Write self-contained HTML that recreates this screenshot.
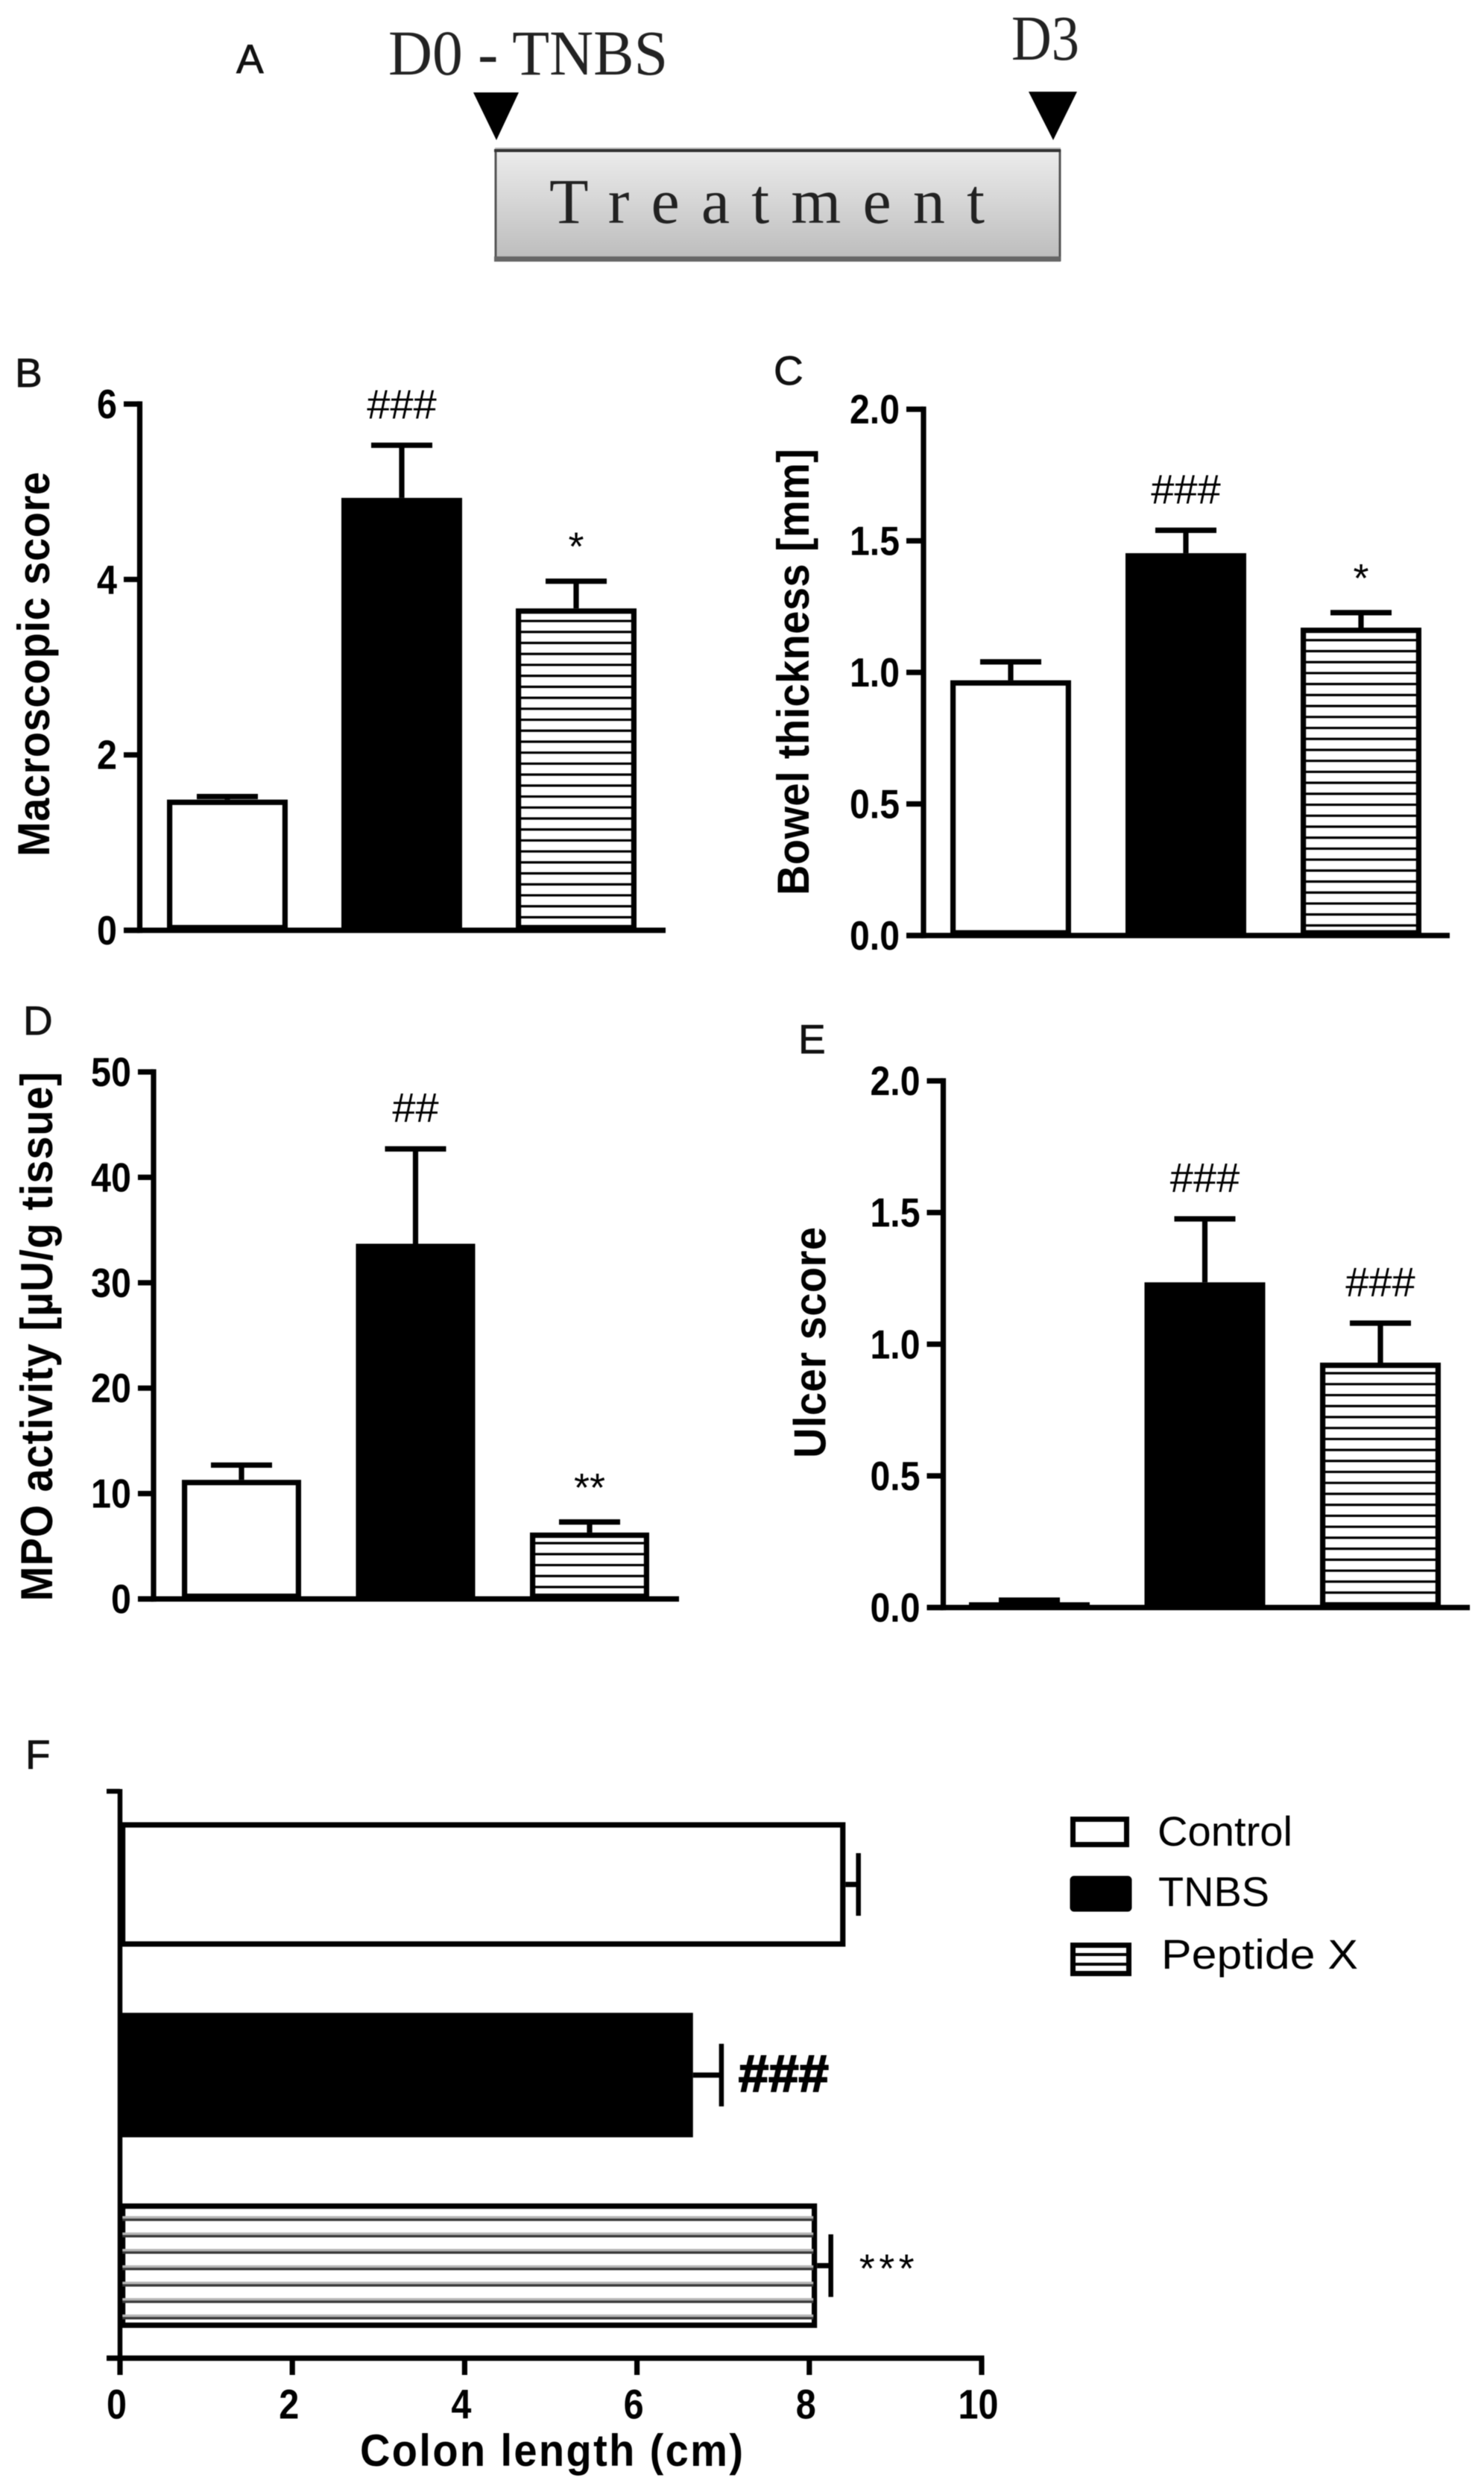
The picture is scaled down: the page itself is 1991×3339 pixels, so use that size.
<!DOCTYPE html>
<html lang="en">
<head>
<meta charset="utf-8">
<title>Peptide X treatment in TNBS colitis</title>
<style>
  html, body { margin: 0; padding: 0; background: #fff; }
  svg { display: block; filter: blur(0.5px); }
  text { font-family: "Liberation Sans", sans-serif; fill: #000; }
  .serif { font-family: "Liberation Serif", serif; fill: #222; }
  .panel-letter { font-size: 55px; fill: #111; stroke: #111; stroke-width: 0.8px; }
</style>
</head>
<body>
<svg id="figure" xmlns="http://www.w3.org/2000/svg" width="1991" height="3339" viewBox="0 0 1991 3339">
  <defs>
    <linearGradient id="treatment-fill" x1="0" y1="0" x2="0" y2="1">
      <stop offset="0" stop-color="#ececec"/>
      <stop offset="1" stop-color="#bcbcbc"/>
    </linearGradient>
  </defs>
  <rect width="1991" height="3339" fill="#fff"/>

  <g>
    <text class="panel-letter" x="317" y="98">A</text>
    <text class="serif" x="521" y="100" font-size="86" textLength="375" lengthAdjust="spacingAndGlyphs">D0 - TNBS</text>
    <text class="serif" x="1357" y="80" font-size="86" textLength="91" lengthAdjust="spacingAndGlyphs">D3</text>
    <polygon points="635,124 696,124 666,188" fill="#000"/>
    <polygon points="1380,123 1445,123 1413,188" fill="#000"/>
    <g>
      <rect x="664" y="198" width="759" height="3" fill="#bbb"/>
      <rect x="665" y="202" width="757" height="147" fill="url(#treatment-fill)" stroke="#555" stroke-width="3"/>
      <rect x="663" y="200" width="760" height="4" fill="#333"/>
      <rect x="663" y="344" width="760" height="7" fill="#666"/>
      <text class="serif" x="737" y="299" font-size="86" textLength="584" lengthAdjust="spacing">Treatment</text>
    </g>
  </g>

  <g id="charts"></g>

  <g>
    <g>
      <rect x="1439.5" y="2440.5" width="72" height="34" fill="#fff" stroke="#000" stroke-width="7"/>
      <text x="1553" y="2476" font-size="56" fill="#222" textLength="181" lengthAdjust="spacingAndGlyphs">Control</text>
    </g>
    <g>
      <rect x="1438" y="2519" width="78" height="43" rx="3" fill="#000" stroke="#000" stroke-width="5"/>
      <text x="1554" y="2557" font-size="56" fill="#222" textLength="149" lengthAdjust="spacingAndGlyphs">TNBS</text>
    </g>
    <g>
      <rect x="1439.5" y="2609.5" width="75" height="38" fill="#fff" stroke="#000" stroke-width="7"/>
      <path d="M1436 2622H1518M1436 2635H1518" stroke="#000" stroke-width="4"/>
      <text x="1558" y="2641" font-size="56" fill="#222" textLength="264" lengthAdjust="spacingAndGlyphs">Peptide X</text>
    </g>
  </g>

  <text class="panel-letter" x="20" y="519">B</text>
  <text class="panel-letter" x="1038" y="516">C</text>
  <text class="panel-letter" x="31" y="1388">D</text>
  <text class="panel-letter" x="1071" y="1413">E</text>
  <text class="panel-letter" x="34" y="2373">F</text>
</svg>

<script>
// ---- shared categories ----
const groups = ['Control', 'TNBS', 'Peptide X'];

// ---- panel B ----
const macroscopicTicks = [0, 2, 4, 6];
const macroscopicTickLabels = ['0', '2', '4', '6'];
const macroscopicValues = [1.49, 4.93, 3.67];
const macroscopicErrors = [0.035, 0.6, 0.31];
const macroscopicMarks = ['', '###', '*'];

// ---- panel C ----
const thicknessTicks = [0, 0.5, 1, 1.5, 2];
const thicknessTickLabels = ['0.0', '0.5', '1.0', '1.5', '2.0'];
const thicknessValues = [0.97, 1.453, 1.17];
const thicknessErrors = [0.07, 0.087, 0.057];
const thicknessMarks = ['', '###', '*'];

// ---- panel D ----
const mpoTicks = [0, 10, 20, 30, 40, 50];
const mpoTickLabels = ['0', '10', '20', '30', '40', '50'];
const mpoValues = [11.3, 33.7, 6.3];
const mpoErrors = [1.4, 9, 1];
const mpoMarks = ['', '##', '**'];

// ---- panel E ----
const ulcerTicks = [0, 0.5, 1, 1.5, 2];
const ulcerTickLabels = ['0.0', '0.5', '1.0', '1.5', '2.0'];
const ulcerValues = [0.02, 1.235, 0.93];
const ulcerErrors = [0.008, 0.241, 0.15];
const ulcerMarks = ['', '###', '###'];

// ---- panel F ----
const colonTicks = [0, 2, 4, 6, 8, 10];
const colonTickLabels = ['0', '2', '4', '6', '8', '10'];
const colonValues = [8.42, 6.65, 8.09];
const colonErrors = [0.15, 0.33, 0.16];
const colonMarks = ['', '###', '***'];

const SVG_NS = 'http://www.w3.org/2000/svg';
const chartsRoot = document.getElementById('charts');
const LINE = 7.2;

function add(parent, tag, attrs, content) {
  const el = document.createElementNS(SVG_NS, tag);
  for (const key in attrs) el.setAttribute(key, attrs[key]);
  if (content !== undefined) el.textContent = content;
  parent.appendChild(el);
  return el;
}

function slug(text) {
  return text.toLowerCase().replace(/[^a-z0-9]+/g, '-');
}

function numberWidth(label) {
  let w = 0;
  for (const ch of label) w += ch === '.' ? 13 : 27;
  return w;
}

function fillBar(parent, group, x, y, w, h, hatchPath) {
  const fill = group === 'TNBS' ? '#000' : '#fff';
  const bar = add(parent, 'rect', {
    x: x + LINE / 2, y: y + LINE / 2,
    width: Math.max(w - LINE, 0.5), height: Math.max(h - LINE, 0.5),
    fill: fill, stroke: '#000', 'stroke-width': LINE
  });
  
  
  if (hatchPath) {
    const hatch = add(parent, 'path', hatchPath);
    
    
  }
  return bar;
}

function columnPanel(cfg) {
  const panel = add(chartsRoot, 'g', {});
  
  

  const yMin = cfg.ticks[0];
  const yMax = cfg.ticks[cfg.ticks.length - 1];
  const yScale = function (v) {
    return cfg.y0 + (v - yMin) / (yMax - yMin) * (cfg.yTop - cfg.y0);
  };

  cfg.values.forEach(function (value, i) {
    const left = cfg.firstBar + i * cfg.barStep;
    const centre = left + cfg.barWidth / 2;
    const top = yScale(value);
    const capY = yScale(value + cfg.errors[i]);

    const stem = add(panel, 'line', { x1: centre, x2: centre, y1: top, y2: capY, stroke: '#000', 'stroke-width': LINE });
    
    
    const cap = add(panel, 'line', { x1: centre - 41, x2: centre + 41, y1: capY, y2: capY, stroke: '#000', 'stroke-width': LINE });
    
    

    let hatchAttrs = null;
    if (groups[i] === 'Peptide X') {
      let d = '';
      for (let y = cfg.y0 - cfg.hatchOffset; y > top + 9; y -= 14.72) {
        d += 'M' + left + ' ' + y + 'H' + (left + cfg.barWidth);
      }
      hatchAttrs = { d: d, stroke: '#000', 'stroke-width': 3.2, fill: 'none' };
    }
    fillBar(panel, groups[i], left, top, cfg.barWidth, cfg.y0 - top, hatchAttrs);

    const mark = cfg.marks[i];
    if (mark) {
      const isHash = mark.charAt(0) === '#';
      const label = add(panel, 'text', {
        x: centre, y: capY - (isHash ? 36 : 28),
        'text-anchor': 'middle',
        'font-size': isHash ? 56 : 54,
        fill: '#222'
      }, mark);
      
      
    }
  });

  const yAxis = add(panel, 'line', { x1: cfg.axisX, x2: cfg.axisX, y1: cfg.yTop - LINE / 2, y2: cfg.y0 + LINE / 2, stroke: '#000', 'stroke-width': LINE });
  
  
  const xAxis = add(panel, 'line', { x1: cfg.tickStart, x2: cfg.axisEnd, y1: cfg.y0, y2: cfg.y0, stroke: '#000', 'stroke-width': LINE });
  
  

  cfg.ticks.forEach(function (tickValue, i) {
    const y = yScale(tickValue);
    const tick = add(panel, 'line', { x1: cfg.tickStart, x2: cfg.axisX, y1: y, y2: y, stroke: '#000', 'stroke-width': LINE });
    
    
    const label = add(panel, 'text', {
      x: cfg.tickStart - 9, y: y + 19,
      'text-anchor': 'end', 'font-size': 55, 'font-weight': 'bold', fill: '#111',
      textLength: numberWidth(cfg.tickLabels[i]), lengthAdjust: 'spacingAndGlyphs'
    }, cfg.tickLabels[i]);
    
    
  });

  const title = add(panel, 'text', {
    x: 0, y: 0,
    transform: 'translate(' + cfg.titleX + ' ' + cfg.titleBottom + ') rotate(-90) scale(1 1.08)',
    'font-size': 56, 'font-weight': 'bold', fill: '#111',
    textLength: cfg.titleLength, lengthAdjust: 'spacing'
  }, cfg.title);
  
  
}

function barPanel(cfg) {
  const panel = add(chartsRoot, 'g', {});
  
  

  const xMin = cfg.ticks[0];
  const xMax = cfg.ticks[cfg.ticks.length - 1];
  const xScale = function (v) {
    return cfg.x0 + (v - xMin) / (xMax - xMin) * (cfg.xEnd - cfg.x0);
  };

  cfg.values.forEach(function (value, i) {
    const top = cfg.firstBar + i * cfg.barStep;
    const centre = top + cfg.barHeight / 2;
    const right = xScale(value);
    const capX = xScale(value + cfg.errors[i]);

    const stem = add(panel, 'line', { x1: right, x2: capX, y1: centre, y2: centre, stroke: '#000', 'stroke-width': 7 });
    
    
    const cap = add(panel, 'line', { x1: capX, x2: capX, y1: centre - 42, y2: centre + 42, stroke: '#000', 'stroke-width': 6.5 });
    
    

    fillBar(panel, groups[i], cfg.x0, top, right - cfg.x0, cfg.barHeight, null);

    if (groups[i] === 'Peptide X') {
      let soft = '';
      let dark = '';
      for (let k = 1; k <= 7; k++) {
        const y = top + k * 22;
        soft += 'M' + cfg.x0 + ' ' + (y - 3) + 'H' + (right - 5);
        dark += 'M' + cfg.x0 + ' ' + y + 'H' + (right - 5);
      }
      const halo = add(panel, 'path', { d: soft, stroke: '#b5b5b5', 'stroke-width': 4, fill: 'none' });
      
      
      const hatch = add(panel, 'path', { d: dark, stroke: '#3a3a3a', 'stroke-width': 3.2, fill: 'none' });
      
      
    }

    const mark = cfg.marks[i];
    if (mark) {
      const isHash = mark.charAt(0) === '#';
      const label = add(panel, 'text', {
        x: capX + (isHash ? 23 : 38), y: centre + 22,
        'font-size': isHash ? 70 : 54,
        'font-weight': isHash ? 'bold' : 'normal',
        fill: isHash ? '#000' : '#333',
        stroke: isHash ? '#000' : 'none',
        'stroke-width': isHash ? 2 : 0,
        textLength: isHash ? 121 : 74,
        lengthAdjust: isHash ? 'spacingAndGlyphs' : 'spacing'
      }, mark);
      
      
    }
  });

  const yAxis = add(panel, 'line', { x1: cfg.x0, x2: cfg.x0, y1: cfg.axisTop, y2: cfg.y0, stroke: '#000', 'stroke-width': 6.5 });
  
  
  const topTick = add(panel, 'line', { x1: cfg.x0 - 18, x2: cfg.x0, y1: cfg.axisTop + 3, y2: cfg.axisTop + 3, stroke: '#000', 'stroke-width': 6.5 });
  
  
  const xAxis = add(panel, 'line', { x1: cfg.x0 - 18, x2: cfg.xEnd + 3.5, y1: cfg.y0, y2: cfg.y0, stroke: '#000', 'stroke-width': 7.2 });
  
  

  cfg.ticks.forEach(function (tickValue, i) {
    const x = xScale(tickValue);
    const tick = add(panel, 'line', { x1: x, x2: x, y1: cfg.y0, y2: cfg.y0 + 22.5, stroke: '#000', 'stroke-width': 7.2 });
    
    
    const label = add(panel, 'text', {
      x: x - 4.5, y: cfg.y0 + 81,
      'text-anchor': 'middle', 'font-size': 56, 'font-weight': 'bold', fill: '#111',
      textLength: numberWidth(cfg.tickLabels[i]), lengthAdjust: 'spacingAndGlyphs'
    }, cfg.tickLabels[i]);
    
    
  });

  const title = add(panel, 'text', {
    x: 0, y: 0,
    transform: 'translate(' + cfg.titleX + ' ' + cfg.titleY + ') scale(1 1.08)',
    'font-size': 56, 'font-weight': 'bold', fill: '#111',
    textLength: cfg.titleLength, lengthAdjust: 'spacing'
  }, cfg.title);
  
  
}

columnPanel({
  name: 'panel-b-macroscopic-score',
  ticks: macroscopicTicks, tickLabels: macroscopicTickLabels,
  values: macroscopicValues, errors: macroscopicErrors, marks: macroscopicMarks,
  axisX: 187.5, tickStart: 166, axisEnd: 893, y0: 1248, yTop: 542,
  firstBar: 224, barStep: 234, barWidth: 162, hatchOffset: 17.5,
  title: 'Macroscopic score', titleX: 66, titleBottom: 1149, titleLength: 516
});

columnPanel({
  name: 'panel-c-bowel-thickness',
  ticks: thicknessTicks, tickLabels: thicknessTickLabels,
  values: thicknessValues, errors: thicknessErrors, marks: thicknessMarks,
  axisX: 1239, tickStart: 1216, axisEnd: 1945, y0: 1255, yTop: 549,
  firstBar: 1275, barStep: 235, barWidth: 162, hatchOffset: 13.5,
  title: 'Bowel thickness [mm]', titleX: 1085, titleBottom: 1201, titleLength: 599
});

columnPanel({
  name: 'panel-d-mpo-activity',
  ticks: mpoTicks, tickLabels: mpoTickLabels,
  values: mpoValues, errors: mpoErrors, marks: mpoMarks,
  axisX: 206, tickStart: 185, axisEnd: 911, y0: 2145, yTop: 1438,
  firstBar: 244, barStep: 233.5, barWidth: 160, hatchOffset: 16,
  title: 'MPO activity [\u00b5U/g tissue]', titleX: 70, titleBottom: 2148, titleLength: 710
});

columnPanel({
  name: 'panel-e-ulcer-score',
  ticks: ulcerTicks, tickLabels: ulcerTickLabels,
  values: ulcerValues, errors: ulcerErrors, marks: ulcerMarks,
  axisX: 1265.5, tickStart: 1243.5, axisEnd: 1972, y0: 2156.5, yTop: 1450,
  firstBar: 1300, barStep: 235.5, barWidth: 162, hatchOffset: 20,
  title: 'Ulcer score', titleX: 1107.5, titleBottom: 1956, titleLength: 310
});

barPanel({
  name: 'panel-f-colon-length',
  ticks: colonTicks, tickLabels: colonTickLabels,
  values: colonValues, errors: colonErrors, marks: colonMarks,
  x0: 161, xEnd: 1317, y0: 3163.5, axisTop: 2400,
  firstBar: 2444.5, barStep: 255.7, barHeight: 167,
  title: 'Colon length (cm)', titleX: 483, titleY: 3308, titleLength: 514
});
</script>
</body>
</html>
